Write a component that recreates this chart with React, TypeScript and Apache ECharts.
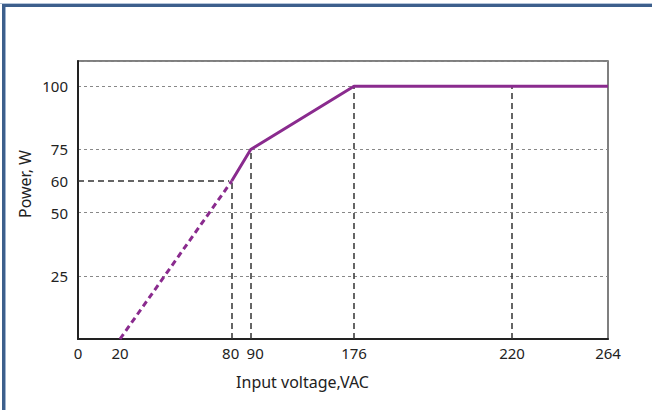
import React, { useEffect, useRef } from "react";
import * as echarts from "echarts";

// Axis breakpoints of the (irregular) voltage axis: voltage -> place on a 0..530 axis
const xTickVoltages = [0, 20, 80, 90, 176, 220, 264];
const xTickSpots = [0, 42, 153.7, 172.7, 276, 434, 530];
const xTickLabels = ["0", "20", "80", "90", "176", "220", "264"];

// Curve: dashed (extrapolated) part and solid part
const dashedVoltages = [20, 80];
const dashedPower = [0, 62.5];
const solidVoltages = [80, 90, 176, 264];
const solidPower = [62.5, 75, 100, 100];

// Reference (guide) lines
const guideVoltages = [80, 90, 176, 220];
const guidePower = [62.5, 75, 100, 100];
const hGuidePower = 62.5;
const hGuideLabel = "60";

const yMin = 0;
const yMax = 110;
const yInterval = 25;

function toPos(v: number): number {
  for (let i = 0; i < xTickVoltages.length - 1; i++) {
    const a = xTickVoltages[i];
    const b = xTickVoltages[i + 1];
    if (v >= a && v <= b) {
      const t = (v - a) / (b - a);
      return xTickSpots[i] + t * (xTickSpots[i + 1] - xTickSpots[i]);
    }
  }
  return xTickSpots[xTickSpots.length - 1];
}

const PURPLE = "#8a2b8e";
const FONT = "Noto Sans";

export default function App() {
  const ref = useRef<HTMLDivElement>(null);
  useEffect(() => {
    if (!ref.current) return;
    const chart = echarts.init(ref.current, undefined, { renderer: "svg" });
    const dashedData = dashedVoltages.map((v, i) => [toPos(v), dashedPower[i]]);
    const solidData = solidVoltages.map((v, i) => [toPos(v), solidPower[i]]);
    const guideLine = { type: [6, 4], color: "#333", width: 1.5 };
    const vGuides = guideVoltages.map((v, i) => [
      { coord: [toPos(v), 0] },
      { coord: [toPos(v), guidePower[i]] },
    ]);
    const hGuide = [
      { coord: [0, hGuidePower], label: { show: true, position: "start", formatter: hGuideLabel, distance: 10, fontSize: 15, color: "#222", fontFamily: FONT } },
      { coord: [toPos(guideVoltages[0]) - 2.5, hGuidePower] },
    ];
    chart.setOption({
      animation: false,
      backgroundColor: "#fff",
      grid: {
        left: 78,
        right: 44,
        top: 61,
        bottom: 71,
        show: true,
        borderColor: "#555",
        borderWidth: 1.5,
        containLabel: false,
        outerBoundsMode: "none",
      },
      xAxis: {
        type: "value",
        min: 0,
        max: xTickSpots[xTickSpots.length - 1],
        axisLine: { show: true, onZero: false, lineStyle: { color: "#222", width: 2 } },
        axisTick: { show: false },
        splitLine: { show: false },
        axisLabel: {
          customValues: xTickSpots,
          margin: 6,
          fontSize: 15,
          color: "#222",
          fontFamily: FONT,
          formatter: (val: number) => {
            let idx = 0;
            let best = Infinity;
            xTickSpots.forEach((s, i) => {
              const d = Math.abs(s - val);
              if (d < best) {
                best = d;
                idx = i;
              }
            });
            const lab = xTickLabels[idx];
            if (lab === "80") return "{l|" + lab + "}";
            if (lab === "90") return "{r|" + lab + "}";
            return lab;
          },
          rich: {
            l: { fontSize: 15, color: "#222", fontFamily: FONT, padding: [0, 2, 0, 0] },
            r: { fontSize: 15, color: "#222", fontFamily: FONT, padding: [0, 0, 0, 9] },
          },
        },
      },
      yAxis: {
        type: "value",
        min: yMin,
        max: yMax,
        interval: yInterval,
        axisLine: { show: true, onZero: false, lineStyle: { color: "#222", width: 2 } },
        axisTick: { show: false },
        splitLine: { show: true, lineStyle: { color: "#888", type: [3, 3], width: 1 } },
        axisLabel: {
          margin: 10,
          fontSize: 15,
          color: "#222",
          fontFamily: FONT,
          formatter: (v: number) => (v === yMin || v === yMax ? "" : String(v)),
        },
      },
      series: [
        {
          type: "line",
          data: dashedData,
          symbol: "none",
          lineStyle: { color: PURPLE, width: 3, type: [6, 4] },
          z: 5,
        },
        {
          type: "line",
          data: solidData,
          symbol: "none",
          lineStyle: { color: PURPLE, width: 3 },
          z: 5,
          markLine: {
            silent: true,
            symbol: "none",
            lineStyle: guideLine,
            label: { show: false },
            data: [...vGuides, hGuide],
            z: 3,
          },
        },
      ],
      graphic: [
        { type: "rect", shape: { x: 0, y: 3, width: 652, height: 1 }, style: { fill: "#b5c5da" } },
        { type: "rect", shape: { x: 2, y: 4, width: 650, height: 3 }, style: { fill: "#3d5f8c" } },
        { type: "rect", shape: { x: 2, y: 4, width: 3, height: 406 }, style: { fill: "#3d5f8c" } },
        { type: "rect", shape: { x: 5, y: 7, width: 1, height: 403 }, style: { fill: "#9fb4d0" } },
        {
          type: "text",
          x: 25,
          y: 184,
          rotation: Math.PI / 2,
          style: { text: "Power, W", fontSize: 16, fill: "#222", fontFamily: FONT, align: "center", verticalAlign: "middle" },
        },
        {
          type: "text",
          x: 302.5,
          y: 382,
          style: { text: "Input voltage,VAC", fontSize: 16, fill: "#222", fontFamily: FONT, align: "center", verticalAlign: "middle" },
        },
      ],
    });
    return () => chart.dispose();
  }, []);
  return <div ref={ref} style={{ position: "absolute", left: 0, top: 0, width: 652, height: 410 }} />;
}
